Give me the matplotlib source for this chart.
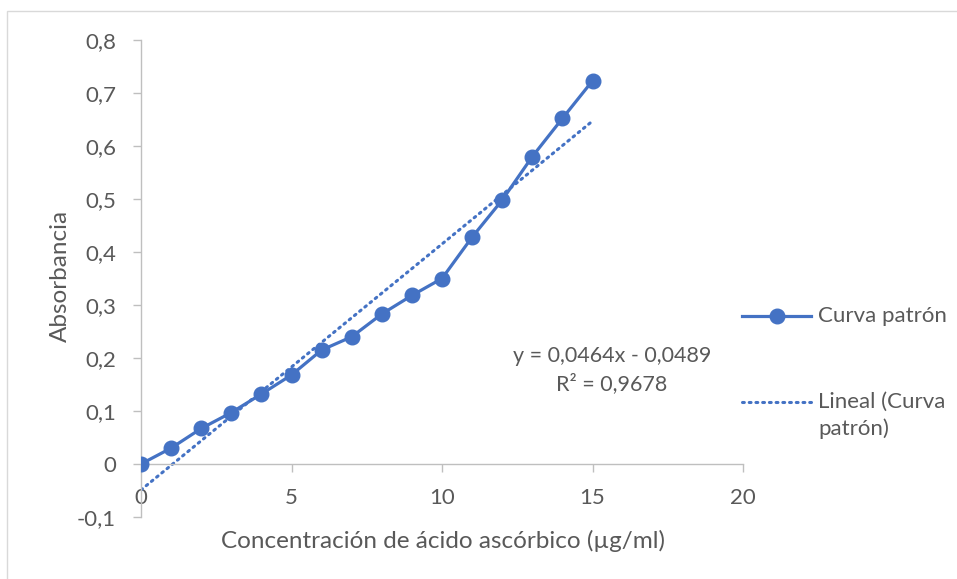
import matplotlib
matplotlib.use("Agg")
import matplotlib.pyplot as plt
from matplotlib.patches import Rectangle
from matplotlib.lines import Line2D
import numpy as np

plt.rcParams['font.family'] = ['Lato', 'DejaVu Sans']

conc = [0, 1, 2, 3, 4, 5, 6, 7, 8, 9, 10, 11, 12, 13, 14, 15]
absorb = [0.0, 0.030, 0.067, 0.097, 0.132, 0.168, 0.215, 0.240, 0.283, 0.318,
          0.350, 0.428, 0.498, 0.580, 0.652, 0.723]
slope = 0.0464
intercept = -0.0489
xticks = [0, 5, 10, 15, 20]
yticks = [-0.1, 0, 0.1, 0.2, 0.3, 0.4, 0.5, 0.6, 0.7, 0.8]
ytick_labels = ['-0,1', '0', '0,1', '0,2', '0,3', '0,4', '0,5', '0,6', '0,7', '0,8']

W, H = 957, 579
fig = plt.figure(figsize=(W / 100, H / 100), dpi=100)
ax = fig.add_axes([141 / W, (H - 517) / H, (743 - 141) / W, (517 - 40) / H])

blue = '#4472C4'
txt = '#595959'
axc = '#BFBFBF'

ax.plot(conc, absorb, color=blue, lw=2.3, marker='o', ms=10.5, zorder=3)
tx = np.array([conc[0], conc[-1]], dtype=float)
ax.plot(tx, slope * tx + intercept, color=blue, lw=2.2, ls=(0, (0.6, 1.6)),
        dash_capstyle='round', zorder=2)

ax.set_xlim(0, 20)
ax.set_ylim(-0.1, 0.8)
for s in ['top', 'right']:
    ax.spines[s].set_visible(False)
ax.spines['left'].set_color(axc)
ax.spines['bottom'].set_color(axc)
ax.spines['bottom'].set_position(('data', 0))
ax.spines['left'].set_linewidth(1.0)
ax.spines['bottom'].set_linewidth(1.0)

ax.set_xticks(xticks)
ax.set_xticklabels([str(v) for v in xticks])
ax.set_yticks(yticks)
ax.set_yticklabels(ytick_labels)
ax.tick_params(axis='y', colors=axc, length=6, width=1, labelcolor=txt, labelsize=16, pad=12)
ax.tick_params(axis='x', colors=axc, length=6, width=1, labelcolor=txt, labelsize=16, pad=11)

fig.text(60 / W, 1 - 276 / H, 'Absorbancia', fontsize=17.5, color=txt,
         ha='center', va='center', rotation=90)
fig.text((218 + 668) / 2 / W, 1 - 541 / H, 'Concentración de ácido ascórbico (µg/ml)',
         fontsize=17.5, color=txt, ha='center', va='center')

fig.text(612 / W, 1 - 356 / H, 'y = 0,0464x - 0,0489', fontsize=15.5, color=txt,
         ha='center', va='center')
fig.text(612 / W, 1 - 384 / H, 'R² = 0,9678', fontsize=15.5, color=txt,
         ha='center', va='center')

# legend
fig.add_artist(Line2D([742 / W, 811 / W], [1 - 316 / H, 1 - 316 / H], color=blue, lw=2.3,
                      transform=fig.transFigure))
fig.add_artist(Line2D([776.5 / W], [1 - 316 / H], color=blue, marker='o', ms=10.5,
                      transform=fig.transFigure))
fig.add_artist(Line2D([742 / W, 811 / W], [1 - 402 / H, 1 - 402 / H], color=blue, lw=2.2,
                      ls=(0, (0.6, 1.6)), dash_capstyle='round', transform=fig.transFigure))
fig.text(818 / W, 1 - 316 / H, 'Curva patrón', fontsize=16, color=txt, va='center')
fig.text(818 / W, 1 - 402 / H, 'Lineal (Curva', fontsize=16, color=txt, va='center')
fig.text(818 / W, 1 - 429 / H, 'patrón)', fontsize=16, color=txt, va='center')

fig.add_artist(Rectangle((7 / W, -0.1), 1.2, 1 - 11 / H + 0.1, transform=fig.transFigure,
                         fill=False, edgecolor='#D9D9D9', lw=1))

fig.savefig('out.png', dpi=100)
